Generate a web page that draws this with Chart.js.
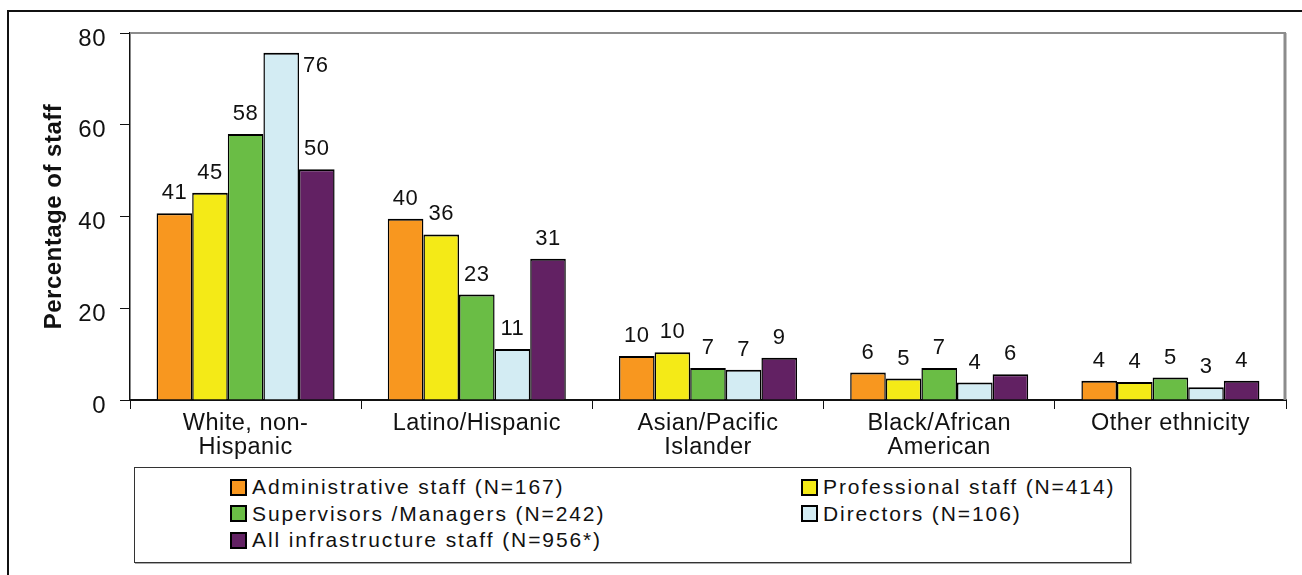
<!DOCTYPE html>
<html>
<head>
<meta charset="utf-8">
<script src="https://cdn.jsdelivr.net/npm/chart.js@4.4.1/dist/chart.umd.min.js"></script>
<style>
  body { margin: 0; background: #fff; font-family: "Liberation Sans", Arial, sans-serif; color: #111; }
  #wrap { position: relative; width: 1302px; height: 575px; overflow: hidden; }
  #frame { position: absolute; left: 7px; top: 10px; width: 1400px; height: 700px; border-left: 2px solid #111; border-top: 2px solid #111; }
  #chart { position: absolute; left: 0; top: 0; }
  #legend { position: absolute; left: 134px; top: 467px; width: 997px; height: 96px; border: 1.5px solid #333; box-shadow: 1px 1px 0 #aaa; box-sizing: border-box; }
  #legend ul { list-style: none; margin: 0; padding: 6px 0 0 95px; display: grid; grid-template-columns: 571px auto; }
  #legend li { display: flex; align-items: center; height: 26.5px; font-size: 21px; letter-spacing: 1.9px; white-space: nowrap; }
  #legend .box { width: 13px; height: 13px; border: 2px solid #000; margin-right: 5px; flex: none; }
</style>
</head>
<body>
<div id="wrap">
  <div id="frame"></div>
  <canvas id="chart" width="1302" height="465"></canvas>
  <div id="legend"></div>
</div>
<script>
// categories on the x axis (multi-line labels as arrays)
const categories = [['White, non-', 'Hispanic'], 'Latino/Hispanic', ['Asian/Pacific', 'Islander'], ['Black/African', 'American'], 'Other ethnicity'];

const seriesNames = [
  'Administrative staff (N=167)',
  'Professional staff (N=414)',
  'Supervisors /Managers (N=242)',
  'Directors (N=106)',
  'All infrastructure staff (N=956*)'
];
const seriesColors = ['#F8971F', '#F4EA17', '#6ABD45', '#D3ECF3', '#622163'];

// percentages
const administrative = [40.7, 39.5, 9.6, 6.0, 4.2];
const professional   = [45.2, 36.1, 10.4, 4.7, 3.9];
const supervisors    = [58.0, 23.0, 7.0, 7.0, 4.9];
const directors      = [75.7, 11.1, 6.6, 3.8, 2.8];
const allStaff       = [50.3, 30.8, 9.2, 5.6, 4.2];

const yTicks = [0, 20, 40, 60, 80];

const seriesValues = [administrative, professional, supervisors, directors, allStaff];

const textSpacing = {
    id: 'textSpacing',
    beforeLayout(chart) { chart.ctx.letterSpacing = '0.5px'; },
    beforeDraw(chart) { chart.ctx.letterSpacing = '0.5px'; }
};

// gray frame on top and right of the plot area
const plotFrame = {
    id: 'plotFrame',
    afterDraw(chart) {
        const { ctx, chartArea: a } = chart;
        ctx.save();
        ctx.strokeStyle = '#8c8c8c';
        ctx.lineWidth = 2;
        ctx.beginPath();
        ctx.moveTo(a.left, a.top);
        ctx.lineTo(a.right, a.top);
        ctx.stroke();
        ctx.lineWidth = 3;
        ctx.beginPath();
        ctx.moveTo(a.right - 1, a.top);
        ctx.lineTo(a.right - 1, a.bottom);
        ctx.stroke();
        ctx.restore();
    }
};

// value labels above each bar
const barLabels = {
    id: 'barLabels',
    afterDatasetsDraw(chart) {
        const { ctx, chartArea: a } = chart;
        ctx.save();
        ctx.font = '22px "Liberation Sans", Arial, sans-serif';
        ctx.fillStyle = '#111';
        ctx.letterSpacing = '0.5px';
        ctx.textBaseline = 'middle';
        chart.data.datasets.forEach((ds, i) => {
            chart.getDatasetMeta(i).data.forEach((bar, j) => {
                const txt = String(Math.round(ds.data[j]));
                let y = bar.y - 20;
                if (y < a.top + 20) {
                    // no room above: put it beside the bar like the original
                    ctx.textAlign = 'left';
                    ctx.fillText(txt, bar.x + bar.width / 2 + 4, bar.y + 13);
                } else {
                    ctx.textAlign = 'center';
                    ctx.fillText(txt, bar.x, y);
                }
            });
        });
        ctx.restore();
    }
};

const chart = new Chart(document.getElementById('chart'), {
    type: 'bar',
    data: {
        labels: categories,
        datasets: seriesNames.map((name, i) => ({
            label: name,
            data: seriesValues[i],
            backgroundColor: seriesColors[i],
            borderColor: '#000',
            borderWidth: { top: 2, left: 1.5, right: 1.5, bottom: 0 },
            borderSkipped: false,
            categoryPercentage: 0.77,
            barPercentage: 1
        }))
    },
    options: {
        responsive: false,
        animation: false,
        layout: { padding: { top: 33, right: 16, left: 0, bottom: 0 } },
        plugins: {
            legend: { display: false },
            tooltip: { enabled: false }
        },
        scales: {
            x: {
                grid: { offset: true, drawOnChartArea: false, tickLength: 9, color: '#111', lineWidth: 1 },
                border: { color: '#111', width: 2 },
                ticks: {
                    font: { size: 23.5, family: '"Liberation Sans", Arial, sans-serif', lineHeight: 1 },
                    color: '#111', padding: 3, maxRotation: 0, autoSkip: false
                },
                afterFit: s => { s.height = 65; }
            },
            y: {
                min: 0,
                max: 80,
                afterBuildTicks: s => { s.ticks = yTicks.map(v => ({ value: v })); },
                grid: { drawOnChartArea: false, tickLength: 10, color: '#111' },
                border: { color: '#111', width: 1.5 },
                ticks: {
                    font: { size: 24, family: '"Liberation Sans", Arial, sans-serif' },
                    color: '#111', padding: 14, labelOffset: 6
                },
                title: {
                    display: true,
                    text: 'Percentage of staff',
                    font: { size: 24, weight: 'bold', family: '"Liberation Sans", Arial, sans-serif' },
                    color: '#111',
                    padding: { top: 40, bottom: 0 }
                },
                afterFit: s => { s.width = 130; }
            }
        }
    },
    plugins: [textSpacing, plotFrame, barLabels]
});

// html legend in two columns, like the original box
const ul = document.createElement('ul');
chart.data.datasets.forEach(ds => {
    const li = document.createElement('li');
    const box = document.createElement('span');
    box.className = 'box';
    box.style.background = ds.backgroundColor;
    li.appendChild(box);
    li.appendChild(document.createTextNode(ds.label));
    ul.appendChild(li);
});
document.getElementById('legend').appendChild(ul);
</script>
</body>
</html>
